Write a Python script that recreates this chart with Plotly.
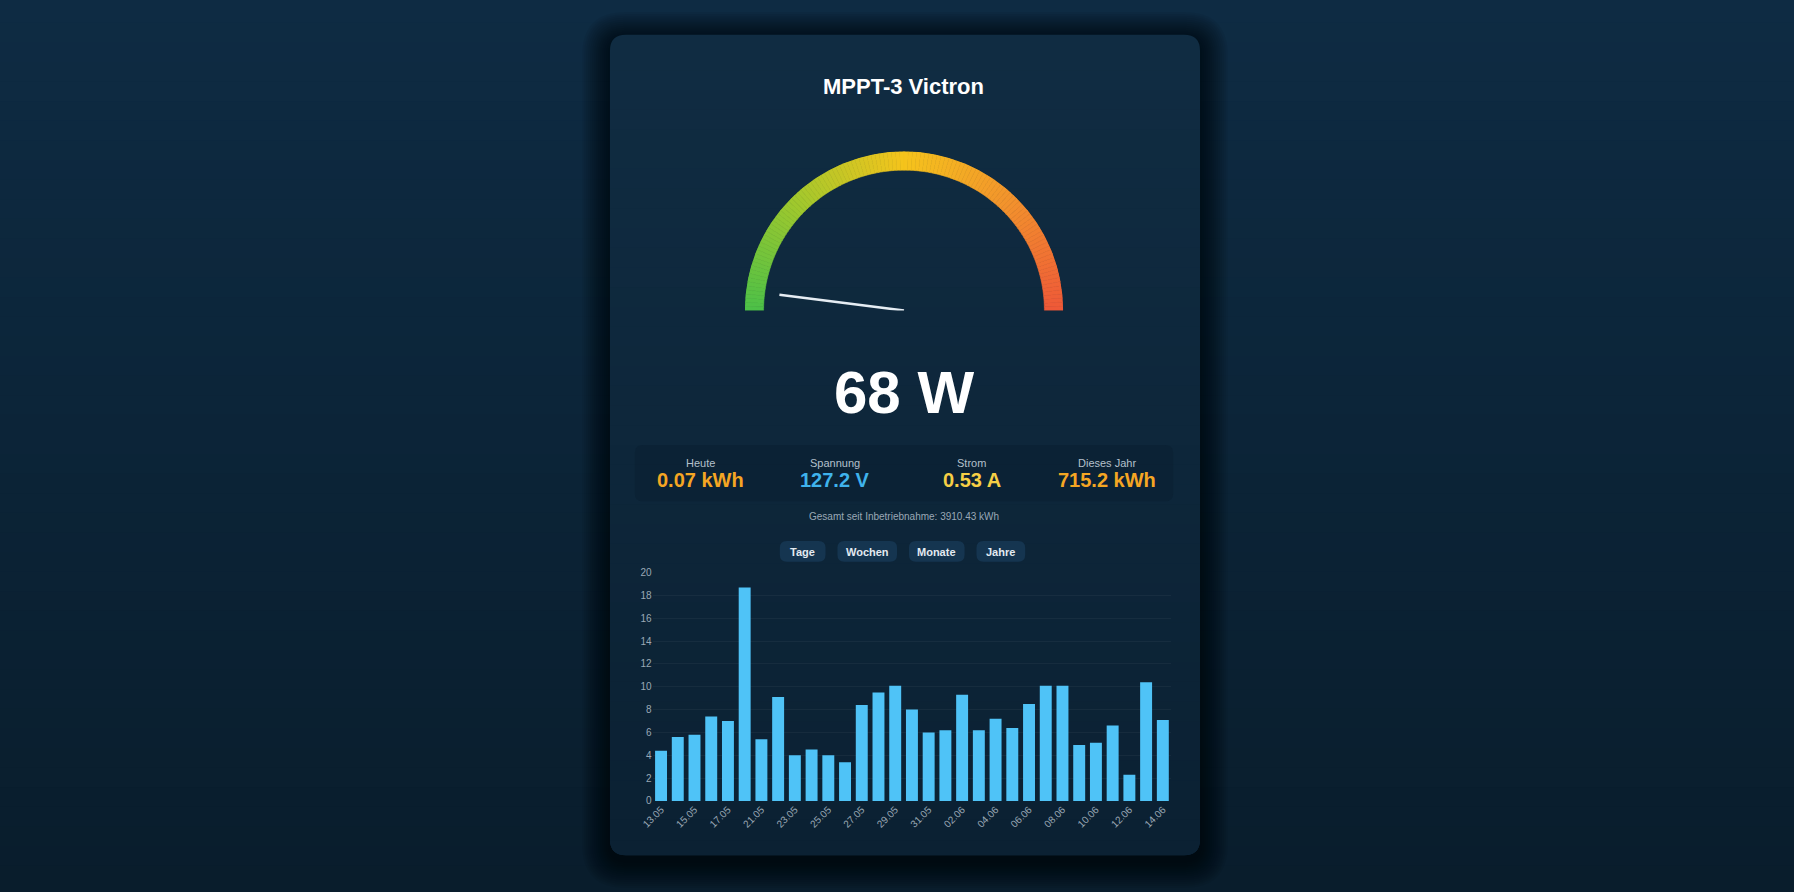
import plotly.graph_objects as go

W, H = 1794, 892

# --- data ---
title = "MPPT-3 Victron"
power_w = 68
gauge_max = 1700
stat_labels = ["Heute", "Spannung", "Strom", "Dieses Jahr"]
stat_values = ["0.07 kWh", "127.2 V", "0.53 A", "715.2 kWh"]
total_text = "Gesamt seit Inbetriebnahme: 3910.43 kWh"
buttons = ["Tage", "Wochen", "Monate", "Jahre"]

days = ["13.05", "14.05", "15.05", "16.05", "17.05", "19.05", "21.05", "22.05",
        "23.05", "24.05", "25.05", "26.05", "27.05", "28.05", "29.05", "30.05",
        "31.05", "01.06", "02.06", "03.06", "04.06", "05.06", "06.06", "07.06",
        "08.06", "09.06", "10.06", "11.06", "12.06", "13.06", "14.06"]
energy_kwh = [4.4, 5.6, 5.8, 7.4, 7.0, 18.7, 5.4, 9.1, 4.0, 4.5, 4.0, 3.4, 8.4,
              9.5, 10.1, 8.0, 6.0, 6.2, 9.3, 6.2, 7.2, 6.4, 8.5, 10.1, 10.1,
              4.9, 5.1, 6.6, 2.3, 10.4, 7.1]

FONT = "Liberation Sans, Arial, sans-serif"
PAGE_BG = "#0d2840"


def fx(x):
    return x / W


def fy(y):
    return 1 - y / H


def rounded_rect(x0, y0, x1, y1, r):
    # path in paper coords, corners given in pixels
    rx, ry = r / W, r / H
    a, b, c, d = fx(x0), fy(y1), fx(x1), fy(y0)
    return (f"M {a+rx},{b} L {c-rx},{b} Q {c},{b} {c},{b+ry} "
            f"L {c},{d-ry} Q {c},{d} {c-rx},{d} L {a+rx},{d} "
            f"Q {a},{d} {a},{d-ry} L {a},{b+ry} Q {a},{b} {a+rx},{b} Z")


def mix(c1, c2, t):
    return tuple(int(round(c1[i] + (c2[i] - c1[i]) * t)) for i in range(3))


def rect(x0, y0, x1, y1, color):
    return dict(type="rect", xref="paper", yref="paper", layer="below",
                x0=x0, x1=x1, y0=y0, y1=y1, fillcolor=color, line_width=0)


def path(p, color):
    return dict(type="path", xref="paper", yref="paper", layer="below",
                path=p, fillcolor=color, line_width=0)


shapes = []

# page background, vertical gradient
top_c, bot_c = (14, 43, 67), (9, 29, 44)
n_strips = 45
for i in range(n_strips):
    c = mix(top_c, bot_c, i / (n_strips - 1))
    y1 = 1 - i / n_strips + (0.05 if i == 0 else 0.002)
    y0 = 1 - (i + 1) / n_strips - (0.05 if i == n_strips - 1 else 0)
    shapes.append(rect(-0.05, y0, 1.05, y1, f"rgb{c}"))

# card shadow
cx0, cy0, cx1, cy1 = 602, 30, 1196, 860
for k in range(14, 0, -1):
    e = k * 2
    shapes.append(path(rounded_rect(cx0 - e, cy0 - e + 5, cx1 + e, cy1 + e + 5, 16 + e),
                       "rgba(0,0,0,0.05)"))

# card with a soft vertical gradient
card_top, card_bot = (16, 44, 66), (11, 33, 51)
shapes.append(path(rounded_rect(cx0, cy0, cx1, cy1, 16), f"rgb{card_top}"))
shapes.append(path(rounded_rect(cx0, cy1 - 40, cx1, cy1, 16), f"rgb{card_bot}"))
n_card = 40
span = (cy1 - 16) - (cy0 + 16)
for i in range(n_card):
    c = mix(card_top, card_bot, i / (n_card - 1))
    ya = cy0 + 16 + i * span / n_card
    yb = cy0 + 16 + (i + 1) * span / n_card + 0.6
    shapes.append(rect(fx(cx0), fy(yb), fx(cx1), fy(ya), f"rgb{c}"))

# stats box
shapes.append(path(rounded_rect(627, 445, 1169, 502, 8), "rgba(6,24,40,0.25)"))

# buttons
btn_x = [(773, 819), (831, 891), (903, 959), (971, 1020)]
for (bx0, bx1) in btn_x:
    shapes.append(path(rounded_rect(bx0, 542, bx1, 563, 7), "#153550"))

fig = go.Figure()

# gauge arc
stops = [(0.0, (76, 192, 72)), (0.25, (160, 200, 45)), (0.5, (245, 196, 28)),
         (0.75, (242, 145, 45)), (1.0, (238, 88, 56))]


def grad(t):
    for (t0, c0), (t1, c1) in zip(stops[:-1], stops[1:]):
        if t <= t1:
            return "rgb(%d,%d,%d)" % mix(c0, c1, (t - t0) / (t1 - t0))
    return "rgb(%d,%d,%d)" % stops[-1][1]


n_seg = 120
seg_w = 180 / n_seg
thetas = [seg_w * (i + 0.5) for i in range(n_seg)]
cols = [grad(t / 180) for t in thetas]
fig.add_trace(go.Barpolar(
    r=[19] * n_seg, base=[142] * n_seg, theta=thetas, width=[seg_w] * n_seg,
    marker=dict(color=cols, line=dict(color=cols, width=0.6)),
    hoverinfo="skip", showlegend=False))

needle_angle = power_w / gauge_max * 180
fig.add_trace(go.Scatterpolar(
    r=[0, 127], theta=[needle_angle, needle_angle], mode="lines",
    line=dict(color="#e6edf3", width=2.5), hoverinfo="skip", showlegend=False))

# daily energy bars
fig.add_trace(go.Bar(
    x=days, y=energy_kwh, marker=dict(color="#4fc3f7", line_width=0),
    showlegend=False, hovertemplate="%{x}: %{y} kWh<extra></extra>"))

annotations = [
    dict(x=fx(898), y=fy(82), text=f"<b>{title}</b>",
         font=dict(size=22, color="#ffffff", family=FONT)),
    dict(x=fx(898), y=fy(392), text=f"<b>{power_w} W</b>",
         font=dict(size=60, color="#ffffff", family=FONT)),
    dict(x=fx(898), y=fy(517), text=total_text,
         font=dict(size=10, color="#9aa8b6", family=FONT)),
]
stat_x = [693, 829, 966, 1102]
stat_colors = ["#f5a623", "#3fb3ec", "#f6cf45", "#f5a623"]
for sx, lab, val, col in zip(stat_x, stat_labels, stat_values, stat_colors):
    annotations.append(dict(x=fx(sx), y=fy(463), text=lab,
                            font=dict(size=11, color="#b4c0cc", family=FONT)))
    annotations.append(dict(x=fx(sx), y=fy(480), text=f"<b>{val}</b>",
                            font=dict(size=20, color=col, family=FONT)))
for (bx0, bx1), lab in zip(btn_x, buttons):
    annotations.append(dict(x=fx((bx0 + bx1) / 2), y=fy(553), text=f"<b>{lab}</b>",
                            font=dict(size=11, color="#e3eaf1", family=FONT)))
for a in annotations:
    a.update(xref="paper", yref="paper", showarrow=False,
             xanchor="center", yanchor="middle")

fig.update_layout(
    width=W, height=H, margin=dict(l=0, r=0, t=0, b=0),
    paper_bgcolor=PAGE_BG, plot_bgcolor="rgba(0,0,0,0)",
    font=dict(family=FONT, color="#9fb0c0"),
    shapes=shapes, annotations=annotations,
    bargap=0.286,
    polar=dict(
        domain=dict(x=[fx(737), fx(1059)], y=[fy(309), fy(148)]),
        sector=[0, 180], hole=0, bgcolor="rgba(0,0,0,0)",
        radialaxis=dict(visible=False, range=[0, 161]),
        angularaxis=dict(visible=False, rotation=180, direction="clockwise"),
    ),
    xaxis=dict(domain=[fx(645), fx(1167)], range=[-0.5, len(days) - 0.5],
               type="category", tickvals=days[::2], tickangle=-45,
               tickfont=dict(size=10, color="#9aa8b5"), showgrid=False,
               showline=False, zeroline=False, ticks=""),
    yaxis=dict(domain=[fy(805), fy(574)], range=[0, 20], dtick=2,
               tickfont=dict(size=10, color="#9aa8b5"),
               gridcolor="rgba(255,255,255,0.045)", zeroline=False,
               showline=False, ticks=""),
)

fig.write_html(
    "out.html", config={"displayModeBar": False},
    post_script=("document.documentElement.style.background='%s';"
                 "document.body.style.background='%s';"
                 "document.body.style.margin='0';"
                 "document.body.style.overflow='hidden';") % (PAGE_BG, PAGE_BG))
